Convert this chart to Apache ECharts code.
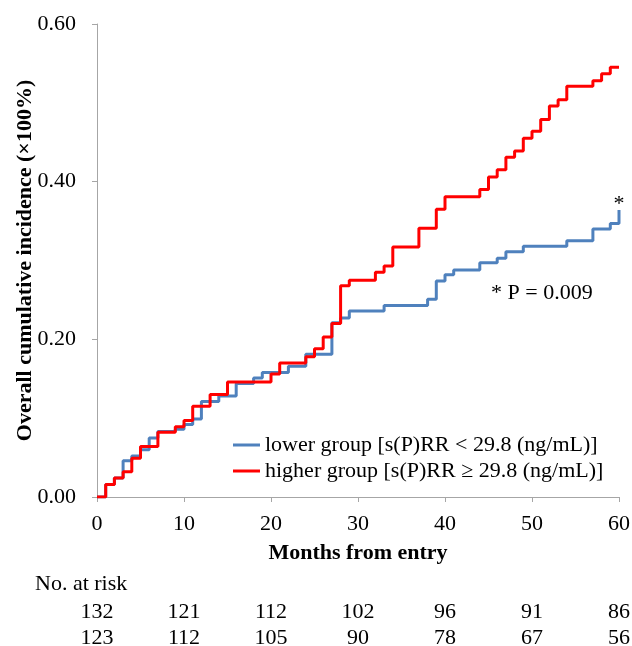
<!DOCTYPE html>
<html>
<head>
<meta charset="utf-8">
<script src="https://cdn.jsdelivr.net/npm/echarts@6/dist/echarts.min.js"></script>
<style>
  html, body { margin: 0; padding: 0; background: #fff; }
  #chart { width: 632px; height: 646px; }
</style>
</head>
<body>
<div id="chart"></div>
<script>
// 数据
var lowerMonths = [0, 1, 2, 3, 4, 5, 6, 7, 9, 10, 11, 12, 14, 16, 18, 19, 22, 24, 27, 28, 29, 33, 38, 39, 40, 41, 44, 46, 47, 49, 54, 57, 59, 60];
var lowerValues = [0, 0.016, 0.024, 0.046, 0.052, 0.060, 0.075, 0.083, 0.086, 0.092, 0.099, 0.121, 0.128, 0.144, 0.151, 0.158, 0.166, 0.181, 0.221, 0.227, 0.236, 0.243, 0.251, 0.274, 0.282, 0.288, 0.297, 0.303, 0.311, 0.318, 0.325, 0.340, 0.347, 0.364];

var higherMonths = [0, 1, 2, 3, 4, 5, 7, 9, 10, 11, 13, 15, 20, 21, 24, 25, 26, 27, 28, 29, 32, 33, 34, 37, 39, 40, 44, 45, 46, 47, 48, 49, 50, 51, 52, 53, 54, 57, 58, 59, 60];
var higherValues = [0, 0.016, 0.024, 0.032, 0.049, 0.064, 0.082, 0.089, 0.097, 0.115, 0.130, 0.146, 0.156, 0.170, 0.178, 0.188, 0.203, 0.220, 0.268, 0.275, 0.285, 0.293, 0.317, 0.341, 0.365, 0.381, 0.390, 0.406, 0.415, 0.431, 0.439, 0.455, 0.464, 0.479, 0.496, 0.504, 0.521, 0.528, 0.537, 0.545, 0.545];

var riskMonths = [0, 10, 20, 30, 40, 50, 60];
var riskLower = [132, 121, 112, 102, 96, 91, 86];
var riskHigher = [123, 112, 105, 90, 78, 67, 56];

var lowerName = 'lower group [s(P)RR < 29.8 (ng/mL)]';
var higherName = 'higher group [s(P)RR \u2265 29.8 (ng/mL)]';

var serif = '"Liberation Serif", "DejaVu Serif", serif';
var axisGray = '#a6a6a6';
var fs = 22;

function toPairs(xs, ys) {
    return xs.map(function (x, i) { return [x, ys[i]]; });
}

var myChart = echarts.init(document.getElementById('chart'));

// 风险人数 row axis
function riskAxis(values, offset) {
    return {
        type: 'value',
        min: 0,
        max: 60,
        interval: 10,
        position: 'bottom',
        offset: offset,
        axisLine: { show: false },
        axisTick: { show: false },
        splitLine: { show: false },
        axisLabel: {
            margin: 0,
            color: '#000',
            fontFamily: serif,
            fontSize: fs,
            formatter: function (v) {
                var i = riskMonths.indexOf(v);
                return i < 0 ? '' : String(values[i]);
            }
        }
    };
}

var lastIdx = lowerMonths.length - 1;

var option = {
    animation: false,
    backgroundColor: '#fff',
    grid: {
        left: 97,
        right: 13,
        top: 24,
        bottom: 149,
        containLabel: false,
        outerBoundsMode: 'none'
    },
    legend: {
        orient: 'vertical',
        left: 228,
        top: 429,
        itemWidth: 27,
        itemHeight: 3,
        itemGap: 4,
        icon: 'rect',
        textStyle: { color: '#000', fontFamily: serif, fontSize: fs },
        data: [lowerName, higherName]
    },
    xAxis: [
        {
            type: 'value',
            min: 0,
            max: 60,
            interval: 10,
            name: 'Months from entry',
            nameLocation: 'middle',
            nameGap: 45,
            nameTextStyle: { color: '#000', fontFamily: serif, fontSize: fs, fontWeight: 'bold' },
            axisLine: { lineStyle: { color: axisGray, width: 1 } },
            axisTick: { length: 5, lineStyle: { color: axisGray } },
            splitLine: { show: false },
            axisLabel: { margin: 16, color: '#000', fontFamily: serif, fontSize: fs }
        },
        riskAxis(riskLower, 104),
        riskAxis(riskHigher, 130)
    ],
    yAxis: {
        type: 'value',
        min: 0,
        max: 0.6,
        interval: 0.2,
        name: 'Overall cumulative incidence (\u00d7100%)',
        nameLocation: 'middle',
        nameGap: 61,
        nameMoveOverlap: false,
        nameTextStyle: { color: '#000', fontFamily: serif, fontSize: fs, fontWeight: 'bold' },
        axisLine: { show: true, lineStyle: { color: axisGray, width: 1 } },
        axisTick: { show: true, length: 5, lineStyle: { color: axisGray } },
        splitLine: { show: false },
        axisLabel: {
            margin: 21,
            color: '#000',
            fontFamily: serif,
            fontSize: fs,
            formatter: function (v) { return v.toFixed(2); }
        }
    },
    graphic: [
        {
            type: 'text',
            left: 35,
            top: 573,
            style: { text: 'No. at risk', fill: '#000', font: fs + 'px ' + serif }
        },
        {
            type: 'text',
            left: 491,
            top: 282,
            style: { text: '* P = 0.009', fill: '#000', font: fs + 'px ' + serif }
        }
    ],
    series: [
        {
            name: lowerName,
            type: 'line',
            step: 'end',
            showSymbol: false,
            symbol: 'none',
            color: '#4f81bd',
            lineStyle: { width: 3, color: '#4f81bd' },
            data: toPairs(lowerMonths, lowerValues),
            // asterisk at the end of the lower curve
            markPoint: {
                symbol: 'circle',
                symbolSize: 1,
                itemStyle: { color: 'rgba(0,0,0,0)' },
                label: {
                    show: true,
                    position: 'top',
                    distance: 1,
                    offset: [0, 7],
                    formatter: '*',
                    color: '#000',
                    fontFamily: serif,
                    fontSize: fs
                },
                data: [{ coord: [lowerMonths[lastIdx], lowerValues[lastIdx]] }]
            },
            z: 2
        },
        {
            name: higherName,
            type: 'line',
            step: 'end',
            showSymbol: false,
            symbol: 'none',
            color: '#ff0000',
            lineStyle: { width: 3, color: '#ff0000' },
            data: toPairs(higherMonths, higherValues),
            z: 3
        }
    ]
};

myChart.setOption(option, true);
</script>
</body>
</html>
